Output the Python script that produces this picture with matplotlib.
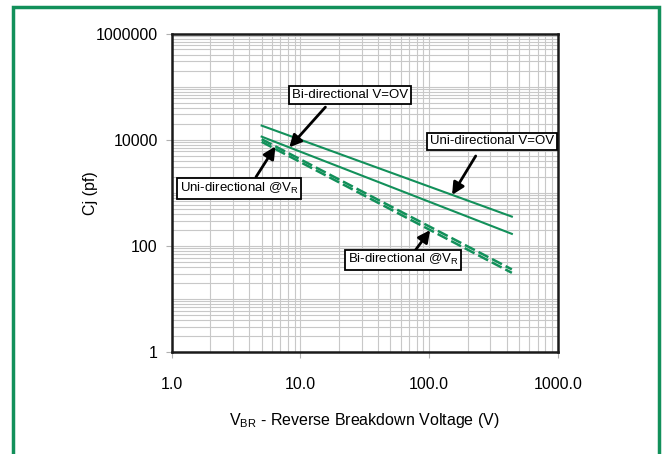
import numpy as np
import matplotlib
matplotlib.use("Agg")
import matplotlib.pyplot as plt
from matplotlib.patches import Rectangle

plt.rcParams['font.family'] = ['Liberation Sans', 'DejaVu Sans']
plt.rcParams['lines.scale_dashes'] = False

# breakdown voltage (V) at the two ends of each curve
v_br = [5, 440]
# junction capacitance (pF)
uni_0v = [18400, 355]
bi_0v = [11400, 168]
uni_vr = [10200, 36]
bi_vr = [9100, 31]

green = '#12905a'

fig = plt.figure(figsize=(6.62, 4.54), dpi=100)
ax = fig.add_axes([0.2594, 0.2247, 0.5831, 0.7015])

ax.plot(v_br, uni_0v, color=green, lw=1.5)
ax.plot(v_br, bi_0v, color=green, lw=1.5)
ax.plot(v_br, uni_vr, color=green, lw=1.8, dashes=(8, 3))
ax.plot(v_br, bi_vr, color=green, lw=1.8, dashes=(8, 3))

ax.set_xscale('log')
ax.set_yscale('log')
ax.set_xlim(1, 1000)
ax.set_ylim(1, 1e6)

ax.set_xticks([1, 10, 100, 1000])
ax.set_xticklabels(['1.0', '10.0', '100.0', '1000.0'])
ax.set_yticks([1, 100, 10000, 1000000])
ax.set_yticklabels(['1', '100', '10000', '1000000'])
ax.xaxis.set_minor_locator(matplotlib.ticker.LogLocator(base=10, subs=np.arange(2, 10), numticks=20))
ax.yaxis.set_minor_locator(matplotlib.ticker.LogLocator(base=10, subs=np.arange(1, 10), numticks=20))
ax.xaxis.set_minor_formatter(matplotlib.ticker.NullFormatter())
ax.yaxis.set_minor_formatter(matplotlib.ticker.NullFormatter())
ax.tick_params(which='major', length=4, color='#b0b0b0', labelsize=11.5)
ax.tick_params(which='minor', length=0)
ax.tick_params(axis='x', pad=14)
ax.tick_params(axis='y', pad=6)

ax.grid(True, which='both', color='#c8c8c8', lw=0.8)
ax.set_axisbelow(True)
for s in ax.spines.values():
    s.set_linewidth(1.8)
    s.set_color('#1a1a1a')

ax.set_ylabel('Cj (pf)', fontsize=11.5)
ax.yaxis.set_label_coords(-0.19, 0.5)
ax.set_xlabel(r'V$_{\mathregular{BR}}$ - Reverse Breakdown Voltage (V)', fontsize=11.5, labelpad=14)


def on_line(xv, ys):
    # point on a straight log-log line
    ly = np.interp(np.log10(xv), np.log10(v_br), np.log10(ys))
    return xv, 10 ** ly


arrow = dict(arrowstyle='-|>', color='black', lw=2, mutation_scale=18, shrinkA=0, shrinkB=0)
ax.annotate('', xy=on_line(8.2, bi_0v), xytext=(26, 29), textcoords='offset points', arrowprops=arrow)
ax.annotate('', xy=on_line(151, uni_0v), xytext=(17, 28), textcoords='offset points', arrowprops=arrow)
ax.annotate('', xy=on_line(6.4, uni_vr), xytext=(-14, -22), textcoords='offset points', arrowprops=arrow)
ax.annotate('', xy=on_line(102, bi_vr), xytext=(-11, -15), textcoords='offset points', arrowprops=arrow)

box = dict(boxstyle='square,pad=0.2', fc='white', ec='black', lw=1.3)
ax.text(0.311, 0.807, 'Bi-directional V=OV', transform=ax.transAxes, fontsize=9.5, va='center', bbox=box)
ax.text(0.669, 0.662, 'Uni-directional V=OV', transform=ax.transAxes, fontsize=9.5, va='center', bbox=box)
ax.text(0.021, 0.513, r'Uni-directional @V$_{\mathregular{R}}$', transform=ax.transAxes, fontsize=9.5,
        va='center', bbox=box)
ax.text(0.456, 0.289, r'Bi-directional @V$_{\mathregular{R}}$', transform=ax.transAxes, fontsize=9.5,
        va='center', bbox=box)

fig.patches.append(Rectangle((13 / 662, -0.05), 646 / 662, 1.05 - 7 / 454, transform=fig.transFigure,
                             fill=False, ec=green, lw=2.5))

fig.savefig('out.png', dpi=100)
